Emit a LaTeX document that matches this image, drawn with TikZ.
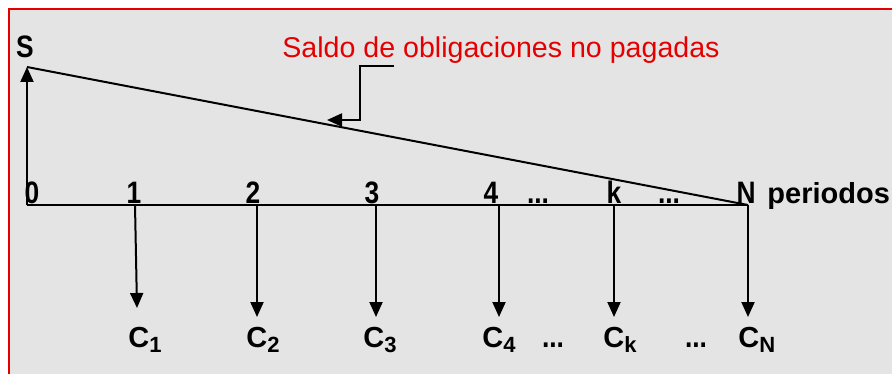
\documentclass[tikz,border=0pt]{standalone}
\usepackage{fontspec}
\setmainfont{Liberation Sans}
\newfontfamily\narrowfont[FakeStretch=0.85]{Liberation Sans}
\usepackage{xcolor}
\usepackage{tikz}
\usetikzlibrary{arrows.meta}
\usetikzlibrary{positioning}
\definecolor{tikz-red}{HTML}{E40000}
\definecolor{tikz-bg}{HTML}{E4E4E4}
\newcommand{\cflow}[1]{C\raisebox{-2.5pt}{\fontsize{11}{12}\selectfont #1}}
\tikzset{node distance=0.6cm}
\tikzstyle{ln} = [draw, line width=1pt, arrows={-Triangle[length=7.5pt,width=6.5pt]}]
\tikzstyle{axis} = [draw, line width=1pt]
\tikzstyle{tick} = [anchor=base, inner sep=0pt, font={\narrowfont\bfseries\fontsize{15.5}{17}\selectfont}]
\tikzstyle{flow} = [anchor=base west, inner sep=0pt, font={\bfseries\fontsize{14.5}{16}\selectfont}]

\begin{document}
\begin{tikzpicture}[x=0.5pt, y=-0.5pt,
        note/.style={anchor=base, inner sep=0pt, text=tikz-red, font={\fontsize{14.3}{16}\selectfont}}
      ]
      \useasboundingbox (0,0) rectangle (892,374);
      \fill[white]             (0,0) rectangle (892,374);
      \fill[tikz-bg]           (9,9) rectangle (892,374);
      \draw[tikz-red, line width=1pt] (9,374) -- (9,9) -- (892,9);
      % axis and balance line
      \coordinate              (o)   at (27,205);
      \coordinate              (top) at (27,67);
      \coordinate              (end) at (748,205);
      \draw[axis]              (o) -- (end);
      \draw[axis]              (top) -- (end);
      \draw[ln]                (o) -- (top);
      \node[tick]              (s)   at (25,58)   {S};
      % period labels
      \node[tick]              (p0)  at (32,203)  {0};
      \node[tick]              (p1)  at (134,203) {1};
      \node[tick]              (p2)  at (253,203) {2};
      \node[tick]              (p3)  at (372,203) {3};
      \node[tick]              (p4)  at (491,203) {4};
      \node[tick]              (pd1) at (538,203) {...};
      \node[tick]              (pk)  at (614,203) {k};
      \node[tick]              (pd2) at (669,203) {...};
      \node[tick]              (pN)  at (746,203) {N};
      \node[flow]              (per) at (767,203) {periodos};
      % payments
      \node[flow]              (c1)  at (128,347) {\cflow{1}};
      \node[flow]              (c2)  at (246,347) {\cflow{2}};
      \node[flow]              (c3)  at (363,347) {\cflow{3}};
      \node[flow]              (c4)  at (482,347) {\cflow{4}};
      \node[tick]              (cd1) at (553,347) {...};
      \node[flow]              (ck)  at (603,347) {\cflow{k}};
      \node[tick]              (cd2) at (696,347) {...};
      \node[flow]              (cN)  at (738,347) {\cflow{N}};
      \coordinate              (t1)  at (135,205);
      \coordinate              (t2)  at (257,205);
      \coordinate              (t3)  at (376,205);
      \coordinate              (t4)  at (499,205);
      \coordinate              (tk)  at (614,205);
      \coordinate              (tN)  at (748,205);
      \coordinate              (a1)  at (137,308);
      \coordinate              (a2)  at (257,317);
      \coordinate              (a3)  at (376,317);
      \coordinate              (a4)  at (499,317);
      \coordinate              (ak)  at (614,317);
      \coordinate              (aN)  at (748,317);
      \draw[ln]                (t1) -- (a1);
      \draw[ln]                (t2) -- (a2);
      \draw[ln]                (t3) -- (a3);
      \draw[ln]                (t4) -- (a4);
      \draw[ln]                (tk) -- (ak);
      \draw[ln]                (tN) -- (aN);
      % callout
      \node[note]              (saldo) at (501,58) {Saldo de obligaciones no pagadas};
      \coordinate              (k1)  at (394,66);
      \coordinate              (k2)  at (360,66);
      \coordinate              (k3)  at (327,120);
      \draw[ln]                (k1) -- (k2) |- (k3);
    \end{tikzpicture}
\end{document}
